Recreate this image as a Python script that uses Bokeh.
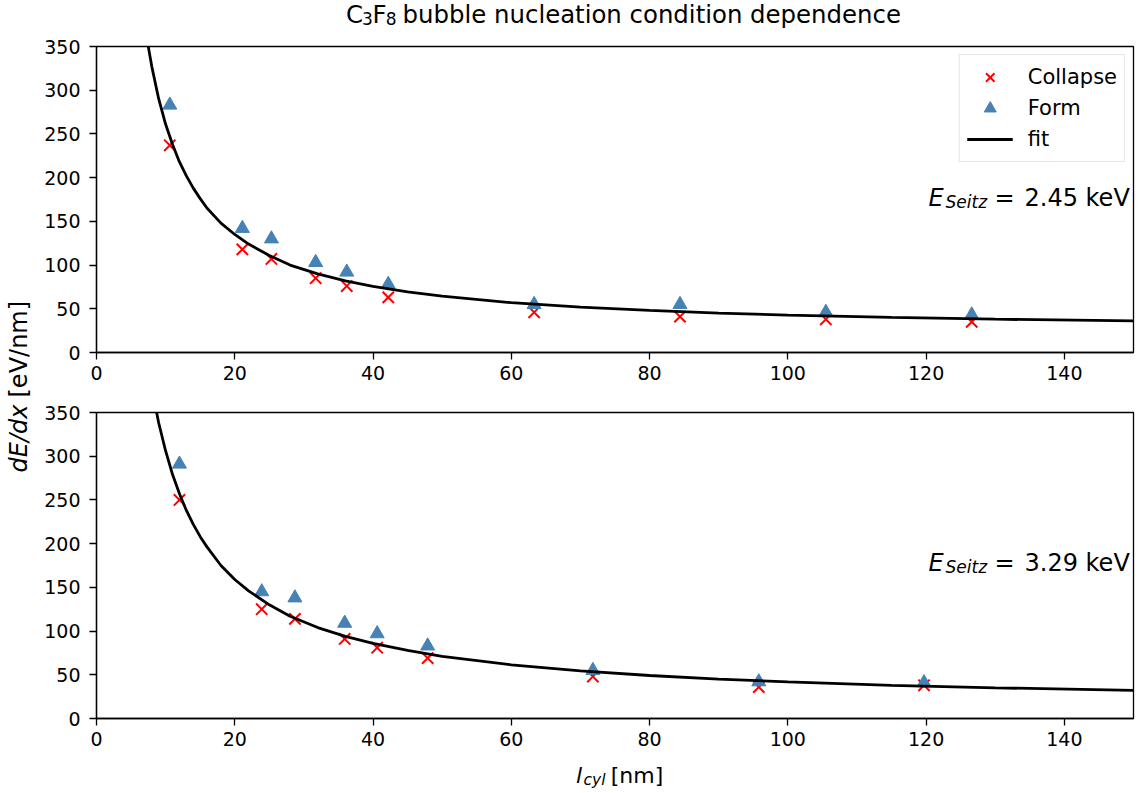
from math import pi
from bokeh.plotting import figure
from bokeh.models import Label, Legend, LegendItem, Range1d
from bokeh.layouts import row, column
from bokeh.embed import file_html
from bokeh.resources import INLINE

# ---------------- data ----------------
top_l = [10.6, 21.1, 25.3, 31.7, 36.2, 42.2, 63.3, 84.4, 105.5, 126.6]
top_form = [283, 142, 130, 103, 92, 78, 55, 55, 46, 43]
top_collapse = [237, 118, 107, 85, 76, 63, 46, 41, 38, 35]
top_fit_l = [7.3, 7.6, 8, 9, 10, 11, 12, 13, 14, 15, 16, 18, 20, 22, 25, 28, 32,
             36, 40, 45, 50, 60, 70, 80, 90, 100, 115, 130, 150]
top_fit = [359, 345, 327, 290, 261, 238, 218, 202, 188, 176, 165, 148, 135, 124,
           111, 100, 90, 82, 75.6, 69.3, 64.4, 57, 51.9, 48.1, 45.1, 42.8, 40.2,
           38.1, 36.1]

bot_l = [12.0, 23.9, 28.7, 35.9, 40.6, 47.9, 71.8, 95.8, 119.7]
bot_form = [291, 145, 138, 109, 97, 83, 55, 42, 41]
bot_collapse = [250, 125, 114, 91, 81, 69, 48, 36, 38]
bot_fit_l = [8.3, 8.7, 9, 10, 11, 12, 13, 14, 15, 16, 18, 20, 22, 25, 28, 32, 36,
             40, 45, 50, 60, 70, 80, 90, 100, 115, 130, 150]
bot_fit = [366, 350, 338, 306, 279, 257, 238, 222, 208, 196, 175, 159, 146, 130,
           117, 104, 94, 86, 78, 71, 61.4, 54.4, 49.2, 45.1, 41.8, 38, 35.1, 32.1]

x_ticks = [0, 20, 40, 60, 80, 100, 120, 140]
y_ticks = [0, 50, 100, 150, 200, 250, 300, 350]
seitz_top = "2.45 keV"
seitz_bot = "3.29 keV"

# ---------------- layout constants ----------------
FONT = "DejaVu Sans"
LEFT_W = 40                 # width of the y-label strip
FRAME_L, FRAME_R = 96, 1133  # page pixels
XSPAN = FRAME_R - FRAME_L
FRAME_H = 306
TITLE_H = 31
TOP_H = 359                 # page 31 .. 390
BOT_H = 368                 # page 390 .. 758
XLAB_H = 35                 # page 758 .. 793
BFIX = 9                    # empirical baseline correction (px)
SFIX = 24                   # empirical horizontal correction for strips (px)


def tx(px):
    return (px - FRAME_L) * 150.0 / XSPAN


def ty(py, frame_bottom):
    return (frame_bottom - py) * 350.0 / FRAME_H


def strip_fig(w, h):
    f = figure(width=w, height=h, x_range=Range1d(0, w), y_range=Range1d(0, h),
               output_backend="svg", toolbar_location=None, min_border=0,
               x_axis_type=None, y_axis_type=None)
    f.outline_line_color = None
    f.border_fill_color = "white"
    f.background_fill_color = "white"
    return f


def make_fig(height, mb_top, mb_bottom):
    p = figure(width=1141 - LEFT_W, height=height, x_range=Range1d(0, 150),
               y_range=Range1d(0, 350), output_backend="svg",
               toolbar_location=None, min_border_left=FRAME_L - LEFT_W,
               min_border_right=1141 - FRAME_R,
               min_border_top=mb_top, min_border_bottom=mb_bottom)
    p.grid.visible = False
    p.outline_line_color = "black"
    p.outline_line_width = 1.3
    p.background_fill_color = "white"
    p.border_fill_color = "white"
    p.xaxis.ticker = x_ticks
    p.yaxis.ticker = y_ticks
    for ax in (p.xaxis, p.yaxis):
        ax.axis_line_color = "black"
        ax.axis_line_width = 1.3
        ax.major_tick_line_color = "black"
        ax.major_tick_line_width = 1.3
        ax.major_tick_out = 7
        ax.major_tick_in = 0
        ax.minor_tick_line_color = None
        ax.major_label_text_font = FONT
        ax.major_label_text_font_size = "19px"
        ax.major_label_text_color = "black"
    p.xaxis.major_label_standoff = 6
    p.yaxis.major_label_standoff = 9
    return p


def add_seitz(p, text, frame_bottom, base_py):
    y0 = ty(base_py - BFIX, frame_bottom)
    ysub = ty(base_py + 4 - BFIX, frame_bottom)
    common = dict(text_font=FONT, text_align="left", text_baseline="alphabetic",
                  text_color="black")
    p.add_layout(Label(x=tx(928), y=y0, text="E", text_font_size="24px",
                       text_font_style="italic", **common))
    p.add_layout(Label(x=tx(945), y=ysub, text="Seitz", text_font_size="17px",
                       text_font_style="italic", **common))
    p.add_layout(Label(x=tx(994), y=y0, text="=", text_font_size="24px", **common))
    p.add_layout(Label(x=tx(1024), y=y0, text=text, text_font_size="24px", **common))


# ---------------- title strip ----------------
tf = strip_fig(1141 - LEFT_W, TITLE_H)
t_common = dict(text_font=FONT, text_align="left", text_baseline="alphabetic",
                text_color="black")
TB = 23  # title baseline (page px)
for px, txt, size, drop in [(329, "C", "24.4px", 0), (346, "3", "17px", 4),
                            (357, "F", "24.4px", 0), (371, "8", "17px", 4),
                            (389, "bubble nucleation condition dependence", "24.4px", 0)]:
    tf.add_layout(Label(x=px - LEFT_W - SFIX, y=TITLE_H - (TB + drop - BFIX),
                        text=txt, text_font_size=size, **t_common))

# ---------------- top panel ----------------
TOP_FB = 352 - TITLE_H
top = make_fig(TOP_H, 46 - TITLE_H, 390 - 352)

rc = top.scatter(top_l, top_collapse, marker="x", size=16, line_color="red",
                 line_width=2)
rf = top.scatter(top_l, top_form, marker="triangle", size=14,
                 fill_color="steelblue", line_color="steelblue")
rl = top.line(top_fit_l, top_fit, line_color="black", line_width=2.8)

legend = Legend(items=[LegendItem(label="Collapse", renderers=[rc]),
                       LegendItem(label="Form", renderers=[rf]),
                       LegendItem(label="fit", renderers=[rl])],
                location="top_right")
legend.margin = 8
legend.padding = 7
legend.spacing = 1
legend.glyph_width = 46
legend.glyph_height = 30
legend.label_height = 30
legend.label_standoff = 15
legend.label_text_font = FONT
legend.label_text_font_size = "21px"
legend.label_text_color = "black"
legend.border_line_color = "#cccccc"
legend.border_line_width = 1.3
legend.background_fill_alpha = 0.8
top.add_layout(legend)
add_seitz(top, seitz_top, TOP_FB, 206 - TITLE_H)

# ---------------- bottom panel ----------------
BOT_FB = 718 - 390
bot = make_fig(BOT_H, 412 - 390, 758 - 718)
bot.scatter(bot_l, bot_collapse, marker="x", size=16, line_color="red",
            line_width=2)
bot.scatter(bot_l, bot_form, marker="triangle", size=14,
            fill_color="steelblue", line_color="steelblue")
bot.line(bot_fit_l, bot_fit, line_color="black", line_width=2.8)
add_seitz(bot, seitz_bot, BOT_FB, 571 - 390)

# ---------------- x label strip:  l_cyl [nm] ----------------
xf = strip_fig(1141 - LEFT_W, XLAB_H)
XB = 784
for px, txt, size, style, drop in [(573, "l", "22px", "italic", 0),
                                   (581, "cyl", "15.5px", "italic", 4),
                                   (610, "[nm]", "22px", "normal", 0)]:
    xf.add_layout(Label(x=px - LEFT_W - SFIX, y=793 - (XB + drop - BFIX), text=txt,
                        text_font_size=size, text_font_style=style, **t_common))

# ---------------- shared y label ----------------
yl = strip_fig(LEFT_W, 793)
yl_common = dict(text_font=FONT, text_baseline="alphabetic", text_color="black",
                 angle=pi / 2, text_font_size="24px")
yl.add_layout(Label(x=18, y=793 - 404, text="dE/dx", text_align="right",
                    text_font_style="italic", **yl_common))
yl.add_layout(Label(x=18, y=793 - 397, text="[eV/nm]", text_align="left",
                    **yl_common))

layout = row(yl, column(tf, top, bot, xf, spacing=0), spacing=0)

open("out.html", "w").write(file_html(layout, INLINE))
